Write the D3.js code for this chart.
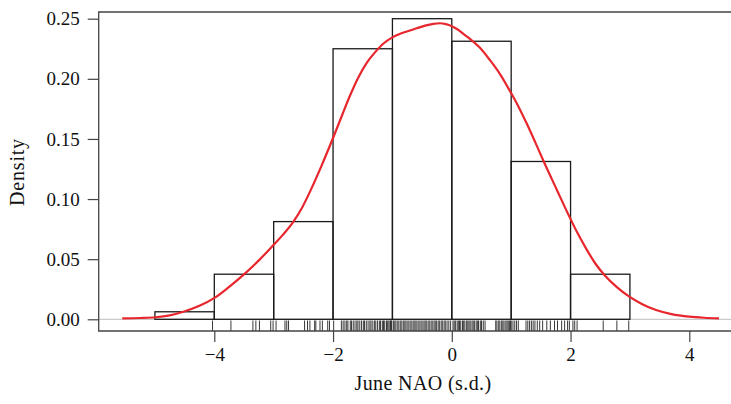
<!DOCTYPE html>
<html><head><meta charset="utf-8">
<script src="https://cdn.jsdelivr.net/npm/d3@7"></script>
<style>
body{margin:0;background:#fff;}
svg{display:block;font-family:"Liberation Serif","DejaVu Serif",serif;}
</style></head><body>
<svg id="c" width="731" height="404"></svg>
<script>
// histogram bins (left edge, right edge, density)
const binStarts = [-5,-4,-3,-2,-1,0,1,2];
const binEnds   = [-4,-3,-2,-1,0,1,2,3];
const binDensity = [0.00625,0.0375,0.08125,0.225,0.25,0.23125,0.13125,0.0375];

// kernel density curve
const kdeX = [-5.55,-5.25,-4.99,-4.75,-4.52,-4.25,-3.99,-3.75,-3.51,-3.25,-3.0,-2.85,-2.67,-2.52,-2.39,-2.2,-1.99,-1.85,-1.71,-1.57,-1.43,-1.29,-1.15,-1.0,-0.87,-0.73,-0.59,-0.45,-0.31,-0.2,-0.1,0.0,0.1,0.2,0.3,0.47,0.64,0.82,1.0,1.13,1.26,1.41,1.56,1.77,1.98,2.12,2.26,2.42,2.57,2.78,2.99,3.2,3.44,3.7,4.0,4.25,4.5];
const kdeY = [0.0008,0.0011,0.0017,0.0033,0.0063,0.0112,0.018,0.027,0.037,0.049,0.062,0.070,0.081,0.093,0.106,0.127,0.152,0.1695,0.1865,0.2015,0.2135,0.2222,0.2294,0.2345,0.2374,0.2398,0.242,0.2442,0.2457,0.2462,0.2455,0.2438,0.2410,0.2372,0.2335,0.2260,0.2157,0.2033,0.188,0.1762,0.163,0.1467,0.130,0.1076,0.0854,0.0715,0.0590,0.0462,0.0369,0.0268,0.0188,0.0128,0.0077,0.0043,0.0022,0.0013,0.0008];

// rug of observations
const rugValues = [
 -4.03,
 -3.72,-3.35,-3.30,-3.24,-3.05,-3.01,
 -2.96,-2.81,-2.78,-2.75,-2.48,-2.43,-2.39,-2.31,-2.29,-2.22,-2.18,-2.09,-2.06,
 -1.99,-1.86,-1.83,-1.80,-1.77,-1.75,-1.71,-1.69,-1.66,-1.63,-1.60,-1.58,-1.55,-1.52,-1.49,-1.47,-1.44,-1.41,
 -1.38,-1.36,-1.33,-1.30,-1.28,-1.25,-1.22,-1.20,-1.17,-1.15,-1.13,-1.10,-1.08,-1.06,-1.04,-1.03,-1.02,-1.01,
 -0.98,-0.96,-0.94,-0.91,-0.89,-0.86,-0.84,-0.81,-0.79,-0.77,-0.74,-0.72,-0.69,-0.67,-0.64,-0.62,-0.60,-0.57,-0.55,-0.52,
 -0.50,-0.47,-0.45,-0.43,-0.40,-0.38,-0.35,-0.33,-0.30,-0.28,-0.26,-0.23,-0.21,-0.18,-0.16,-0.13,-0.11,-0.08,-0.05,-0.02,
 0.02,0.04,0.06,0.09,0.11,0.13,0.15,0.18,0.20,0.22,0.25,0.27,0.29,0.31,0.34,0.36,0.38,0.41,0.43,0.45,0.48,0.50,0.53,0.56,
 0.74,0.76,0.79,0.81,0.84,0.86,0.88,0.91,0.93,0.95,0.97,0.99,1.0,
 1.03,1.06,1.09,1.12,1.25,1.28,1.31,1.34,1.37,1.40,1.44,1.48,1.53,1.60,1.66,1.73,1.78,1.85,1.90,1.95,1.98,
 2.04,2.07,2.11,2.55,2.78,2.98
];

const yTicks = [0,0.05,0.10,0.15,0.20,0.25];
const xTicks = [-4,-2,0,2,4];
const xLabel = "June NAO (s.d.)";
const yLabel = "Density";

const svg = d3.select("#c");
const x = d3.scaleLinear().domain([-4,4]).range([214.3,689.3]);
const y = d3.scaleLinear().domain([0,0.25]).range([319.3,18.7]);

const boxL = 98.7, boxT = 12, boxB = 331, boxR = 740;

// zero line
svg.append("line").attr("x1",boxL).attr("x2",731).attr("y1",y(0)).attr("y2",y(0))
  .attr("stroke","#bdbdbd").attr("stroke-width",1);

// histogram
svg.append("g").selectAll("rect").data(binDensity).join("rect")
  .attr("x",(d,i)=>x(binStarts[i]))
  .attr("width",(d,i)=>x(binEnds[i])-x(binStarts[i]))
  .attr("y",d=>y(d))
  .attr("height",d=>y(0)-y(d))
  .attr("fill","none").attr("stroke","#1a1a1a").attr("stroke-width",1.3);

// rug
svg.append("g").selectAll("line").data(rugValues).join("line")
  .attr("x1",d=>x(d)).attr("x2",d=>x(d))
  .attr("y1",320.5).attr("y2",331)
  .attr("stroke","#222").attr("stroke-width",0.9);

// density curve
const line = d3.line().x((d,i)=>x(kdeX[i])).y(d=>y(d)).curve(d3.curveMonotoneX);
svg.append("path").datum(kdeY).attr("d",line)
  .attr("fill","none").attr("stroke","#e8262d").attr("stroke-width",2.2);

// box
svg.append("path").attr("d",`M${boxR},${boxT}H${boxL}V${boxB}H${boxR}`)
  .attr("fill","none").attr("stroke","#444").attr("stroke-width",1.3);

// y axis
const yAxis = d3.axisLeft(y).tickValues(yTicks).tickFormat(d3.format(".2f")).tickSize(11).tickSizeOuter(0);
const gy = svg.append("g").attr("transform",`translate(${boxL},0)`).call(yAxis);
gy.select(".domain").remove();
gy.selectAll(".tick line").attr("stroke","#444").attr("stroke-width",1.2);
gy.selectAll(".tick text").attr("x",-19).attr("font-size","19px").attr("fill","#111")
  .attr("font-family","Liberation Serif, serif");

// x axis
const xAxis = d3.axisBottom(x).tickValues(xTicks).tickSize(11).tickSizeOuter(0);
const gx = svg.append("g").attr("transform",`translate(0,${boxB})`).call(xAxis);
gx.select(".domain").remove();
gx.selectAll(".tick line").attr("stroke","#444").attr("stroke-width",1.2);
gx.selectAll(".tick text").attr("y",17).attr("font-size","19px").attr("fill","#111")
  .attr("font-family","Liberation Serif, serif");

// labels
svg.append("text").attr("x",423).attr("y",390).attr("text-anchor","middle")
  .attr("font-size","20px").attr("letter-spacing","0.4px").attr("fill","#111").text(xLabel);
svg.append("text").attr("transform","translate(24,172) rotate(-90)").attr("text-anchor","middle")
  .attr("font-size","20px").attr("letter-spacing","0.8px").attr("fill","#111").text(yLabel);
</script>
</body></html>
